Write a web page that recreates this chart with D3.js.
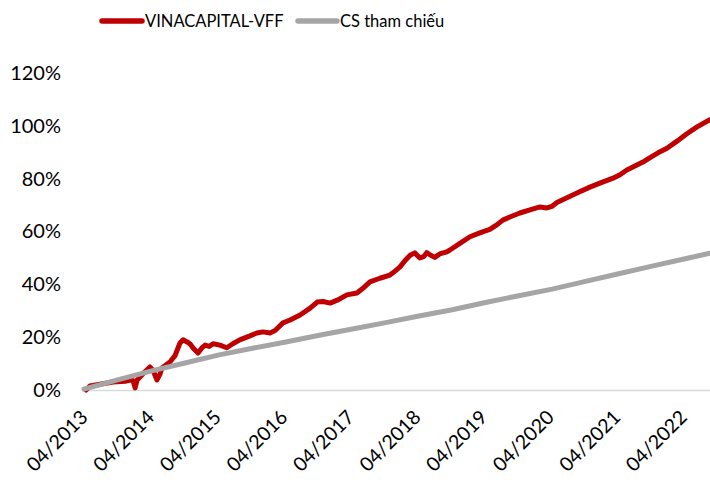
<!DOCTYPE html>
<html>
<head>
<meta charset="utf-8">
<script src="https://cdn.jsdelivr.net/npm/d3@7"></script>
<style>
  html, body { margin: 0; padding: 0; background: #fff; }
  svg { display: block; }
  text { font-family: Lato, "Open Sans", sans-serif; fill: #000; }
</style>
</head>
<body>
<svg id="chart" width="710" height="483"></svg>
<script>
// ---- Data ----
const seriesNames = ["VINACAPITAL-VFF", "CS tham chiếu"];

const vffDates = [
  "2013-04-01","2013-04-22","2013-06-16","2013-08-27","2013-11-01","2013-11-29","2013-12-15","2013-12-26",
  "2014-01-06","2014-01-23","2014-02-19","2014-03-17","2014-04-03","2014-04-25","2014-05-11","2014-05-22",
  "2014-07-05","2014-08-02","2014-08-29","2014-09-15","2014-10-07","2014-10-23","2014-11-09","2014-12-06",
  "2014-12-28","2015-01-14","2015-02-05","2015-02-27","2015-04-05","2015-05-13","2015-06-15","2015-07-23",
  "2015-09-17","2015-10-25","2015-11-28","2016-01-05","2016-02-02","2016-03-16","2016-04-24","2016-06-18",
  "2016-08-12","2016-09-20","2016-10-22","2016-11-30","2017-01-08","2017-03-02","2017-04-26","2017-05-29",
  "2017-07-06","2017-08-30","2017-10-24","2017-11-21","2017-12-18","2018-01-15","2018-02-12","2018-03-09",
  "2018-04-06","2018-04-28","2018-05-14","2018-06-05","2018-06-27","2018-07-24","2018-09-01","2018-09-18",
  "2018-11-12","2019-01-06","2019-03-01","2019-04-25","2019-06-02","2019-07-05","2019-08-13","2019-10-07",
  "2019-12-01","2020-01-25","2020-03-03","2020-03-30","2020-04-27","2020-06-21","2020-08-15","2020-10-25",
  "2020-12-19","2021-03-01","2021-04-08","2021-05-16","2021-06-29","2021-08-12","2021-09-20","2021-11-03",
  "2021-12-22","2022-02-15","2022-04-10","2022-06-03","2022-08-14"
];
const vffValues = [
  0.0, 1.5, 2.2, 3.0, 3.3, 3.8, 3.5, 0.8,
  3.8, 5.0, 7.0, 8.7, 7.5, 3.8, 6.0, 8.3,
  10.6, 13.0, 17.8, 19.0, 18.2, 17.5, 15.9, 14.0,
  16.0, 17.0, 16.5, 17.5, 17.0, 16.0, 17.5, 19.0,
  20.5, 21.6, 22.0, 21.6, 22.5, 25.4, 26.5, 28.4,
  31.0, 33.3, 33.5, 32.9, 34.0, 36.0, 36.7, 38.5,
  40.9, 42.3, 43.5, 45.0, 46.6, 49.0, 51.0, 51.9,
  50.0, 50.5, 52.0, 51.0, 50.2, 51.5, 52.3, 53.0,
  55.5, 58.0, 59.5, 60.8, 62.5, 64.3, 65.5, 67.0,
  68.2, 69.3, 68.9, 69.5, 71.0, 72.8, 74.6, 76.8,
  78.3, 80.2, 81.5, 83.3, 84.8, 86.3, 88.0, 89.8,
  91.5, 94.2, 97.0, 99.5, 102.3
];

const refDates = [
  "2013-03-20","2013-10-01","2014-04-01","2014-10-01","2015-04-01","2015-10-01","2016-04-01","2016-10-01",
  "2017-04-01","2017-10-01","2018-04-01","2018-10-01","2019-04-01","2019-10-01","2020-04-01","2020-10-01",
  "2021-04-01","2021-10-01","2022-04-01","2022-08-15"
];
const refValues = [
  0.3, 4.0, 7.35, 10.3, 13.3, 15.8, 18.2, 20.7,
  23.1, 25.5, 28.0, 30.4, 33.1, 35.7, 38.2, 41.1,
  44.0, 46.9, 49.7, 51.8
];

const yTicks = [0, 20, 40, 60, 80, 100, 120];
const xTickDates = ["2013-04-01","2014-04-01","2015-04-01","2016-04-01","2017-04-01",
                    "2018-04-01","2019-04-01","2020-04-01","2021-04-01","2022-04-01"];

// ---- Chart ----
const parse = d3.timeParse("%Y-%m-%d");
const svg = d3.select("#chart");

const x = d3.scaleTime()
  .domain([parse("2013-03-15"), parse("2022-08-15")])
  .range([83, 710]);
const y = d3.scaleLinear().domain([0, 120]).range([390, 73]);

const colors = ["#C00000", "#A5A5A5"];

// Y axis labels
const yAxis = d3.axisLeft(y).tickValues(yTicks).tickSize(0).tickPadding(0)
  .tickFormat(d => d + "%");
const gy = svg.append("g").attr("transform", "translate(61,0)").call(yAxis);
gy.select(".domain").remove();
gy.selectAll("text").attr("font-size", 20).attr("font-family", "Lato, sans-serif").attr("fill", "#000");

// Horizontal axis line
const xAxis = d3.axisBottom(x).tickValues(xTickDates.map(parse)).tickSize(0).tickFormat(d3.timeFormat("%m/%Y"));
const gx = svg.append("g").attr("transform", "translate(0,390)").call(xAxis);
gx.select(".domain").attr("stroke", "#D9D9D9").attr("stroke-width", 1.3);
gx.selectAll("text")
  .attr("font-size", 19.5)
  .attr("font-family", "Lato, sans-serif")
  .attr("fill", "#000")
  .attr("text-anchor", "end")
  .attr("dy", null)
  .attr("y", null)
  .attr("transform", "translate(-1,25) rotate(-45)")
  .attr("dominant-baseline", "middle");

// Lines
const line = d3.line().x(d => x(d[0])).y(d => y(d[1])).curve(d3.curveLinear);
const vffData = vffDates.map((d, i) => [parse(d), vffValues[i]]);
const refData = refDates.map((d, i) => [parse(d), refValues[i]]);

svg.append("path").datum(vffData)
  .attr("fill", "none").attr("stroke", colors[0]).attr("stroke-width", 5)
  .attr("stroke-linejoin", "round").attr("stroke-linecap", "round")
  .attr("d", line);
svg.append("path").datum(refData)
  .attr("fill", "none").attr("stroke", colors[1]).attr("stroke-width", 5)
  .attr("stroke-linejoin", "round").attr("stroke-linecap", "round")
  .attr("d", line);

// Legend
const legendItems = [
  { name: seriesNames[0], color: colors[0], x1: 102, x2: 142, tx: 145 },
  { name: seriesNames[1], color: colors[1], x1: 298, x2: 337, tx: 340 }
];
const lg = svg.append("g");
legendItems.forEach(it => {
  lg.append("line").attr("x1", it.x1).attr("x2", it.x2).attr("y1", 21).attr("y2", 21)
    .attr("stroke", it.color).attr("stroke-width", 5.5).attr("stroke-linecap", "round");
  lg.append("text").attr("x", it.tx).attr("y", 21).attr("dy", "0.36em")
    .attr("font-size", 16.5).text(it.name);
});
</script>
</body>
</html>
